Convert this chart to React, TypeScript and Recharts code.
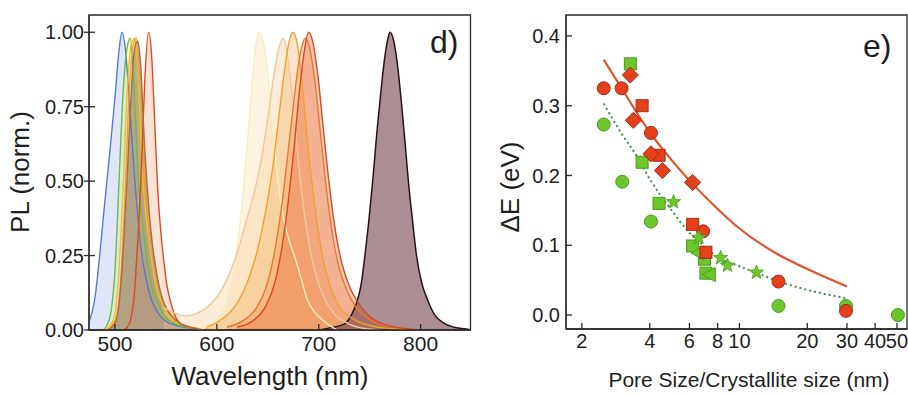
import { Area, ComposedChart, Line, ReferenceArea, Scatter, XAxis, YAxis } from "recharts";

const FONT = "'Liberation Sans', Arial, sans-serif";
const AX = "#2a2a2a";
const TXT = "#1e1e1e";

// ---- panel d: PL spectra, [wavelength (nm), PL (norm.)] ----
const blueSpec = [[475, 0.03], [480, 0.1], [485, 0.25], [490, 0.43], [495, 0.6], [500, 0.78], [504, 0.94], [507, 1.0], [510, 0.95], [515, 0.72], [520, 0.48], [525, 0.29], [530, 0.18], [535, 0.11], [540, 0.07], [545, 0.045], [550, 0.03], [560, 0.015], [570, 0.008], [580, 0.003], [590, 0]];
const greenSpec = [[488, 0], [492, 0.015], [496, 0.06], [500, 0.2], [504, 0.5], [508, 0.8], [512, 0.95], [515, 0.98], [518, 0.86], [520, 0.72], [523, 0.5], [527, 0.36], [531, 0.25], [536, 0.15], [541, 0.1], [546, 0.06], [552, 0.035], [560, 0.02], [570, 0.01], [585, 0.003], [600, 0]];
const yellowSpec = [[490, 0], [494, 0.01], [499, 0.04], [503, 0.15], [508, 0.48], [512, 0.8], [516, 0.96], [519, 0.98], [522, 0.9], [527, 0.52], [531, 0.37], [535, 0.26], [540, 0.15], [545, 0.1], [550, 0.06], [556, 0.035], [565, 0.018], [575, 0.008], [590, 0.002], [600, 0]];
const amberSpec = [[492, 0], [496, 0.01], [501, 0.04], [505, 0.14], [510, 0.47], [514, 0.8], [518, 0.96], [521, 0.98], [524, 0.9], [529, 0.53], [533, 0.38], [537, 0.27], [542, 0.16], [547, 0.1], [552, 0.065], [558, 0.035], [567, 0.018], [577, 0.008], [592, 0.002], [602, 0]];
const brownSpec = [[493, 0], [497, 0.01], [501, 0.03], [505, 0.12], [509, 0.32], [512, 0.52], [516, 0.8], [519, 0.94], [522, 0.97], [525, 0.9], [529, 0.62], [533, 0.42], [537, 0.28], [542, 0.17], [548, 0.09], [555, 0.05], [565, 0.02], [575, 0.008], [590, 0]];
const redSpec = [[508, 0], [512, 0.01], [515, 0.03], [519, 0.12], [522, 0.28], [526, 0.55], [529, 0.82], [533, 1.0], [536, 0.92], [539, 0.7], [542, 0.47], [545, 0.33], [548, 0.23], [551, 0.15], [555, 0.09], [560, 0.04], [565, 0.02], [575, 0.008], [590, 0]];
const paleSpec = [[580, 0], [587, 0.005], [595, 0.02], [605, 0.06], [615, 0.17], [622, 0.33], [628, 0.55], [634, 0.8], [638, 0.95], [642, 1.0], [646, 0.96], [651, 0.83], [656, 0.65], [660, 0.5], [666, 0.37], [671, 0.3], [676, 0.25], [683, 0.17], [689, 0.1], [696, 0.06], [705, 0.03], [712, 0.012], [718, 0]];
const tanSpec = [[548, 0.075], [560, 0.055], [570, 0.047], [580, 0.055], [590, 0.075], [600, 0.11], [610, 0.17], [620, 0.26], [630, 0.38], [638, 0.48], [645, 0.6], [652, 0.76], [658, 0.9], [662, 0.96], [665, 0.98], [668, 0.95], [673, 0.82], [678, 0.64], [683, 0.47], [689, 0.32], [696, 0.2], [705, 0.11], [715, 0.055], [730, 0.02], [745, 0.005], [760, 0]];
const orangeSpec = [[590, 0.01], [600, 0.025], [610, 0.05], [620, 0.09], [630, 0.16], [640, 0.27], [648, 0.4], [655, 0.55], [661, 0.72], [666, 0.86], [671, 0.97], [675, 1.0], [679, 0.96], [684, 0.82], [690, 0.6], [696, 0.42], [702, 0.28], [710, 0.16], [720, 0.08], [735, 0.035], [750, 0.015], [770, 0.005], [790, 0]];
const coralSpec = [[610, 0.01], [625, 0.03], [638, 0.07], [648, 0.14], [656, 0.25], [663, 0.4], [669, 0.57], [675, 0.75], [680, 0.89], [684, 0.96], [687, 0.98], [691, 0.95], [696, 0.84], [702, 0.65], [708, 0.46], [714, 0.31], [720, 0.21], [728, 0.13], [738, 0.07], [750, 0.035], [765, 0.015], [785, 0.005], [800, 0]];
const scarletSpec = [[620, 0.01], [635, 0.03], [648, 0.08], [657, 0.16], [664, 0.28], [670, 0.43], [676, 0.62], [681, 0.8], [686, 0.94], [690, 1.0], [694, 0.97], [699, 0.86], [705, 0.66], [711, 0.47], [717, 0.32], [723, 0.22], [731, 0.14], [741, 0.08], [752, 0.04], [765, 0.018], [780, 0.007], [800, 0]];
const darkSpec = [[700, 0], [712, 0.008], [725, 0.02], [732, 0.05], [738, 0.1], [742, 0.16], [745, 0.24], [749, 0.36], [753, 0.5], [757, 0.66], [761, 0.8], [765, 0.92], [768, 0.98], [770, 1.0], [773, 0.98], [777, 0.9], [781, 0.77], [785, 0.62], [788, 0.5], [792, 0.37], [796, 0.25], [801, 0.16], [807, 0.1], [814, 0.05], [822, 0.025], [832, 0.01], [845, 0.003], [850, 0]];

const wlTicks = [500, 600, 700, 800];
const plTicks = [0, 0.25, 0.5, 0.75, 1.0];

// ---- panel e: ΔE vs size ----
const redCircleX = [2.5, 3.0, 4.05, 6.9, 14.9, 29.7];
const redCircleY = [0.325, 0.325, 0.261, 0.12, 0.048, 0.006];
const redSquareX = [3.7, 4.4, 6.2, 7.1];
const redSquareY = [0.3, 0.229, 0.13, 0.09];
const redDiamondX = [3.28, 3.38, 4.05, 4.55, 6.2];
const redDiamondY = [0.344, 0.279, 0.231, 0.207, 0.19];
const greenCircleX = [2.5, 3.02, 4.05, 14.9, 29.7, 50.5];
const greenCircleY = [0.273, 0.191, 0.134, 0.013, 0.013, 0.0];
const greenSquareX = [3.28, 3.7, 4.4, 6.2, 7.0, 7.1];
const greenSquareY = [0.36, 0.219, 0.16, 0.099, 0.08, 0.06];
const greenTriX = [6.55, 7.35];
const greenTriY = [0.089, 0.058];
const greenStarX = [5.1, 6.6, 8.25, 8.85, 11.9];
const greenStarY = [0.162, 0.111, 0.082, 0.071, 0.061];
const redFitX = [2.5, 3, 4, 5, 6, 8, 10, 15, 20, 30];
const redFitY = [0.366, 0.325, 0.262, 0.222, 0.193, 0.152, 0.124, 0.086, 0.066, 0.041];
const greenFitX = [2.5, 3, 3.5, 4, 5, 6, 7, 8, 10, 12, 15, 20, 30];
const greenFitY = [0.303, 0.26, 0.228, 0.195, 0.15, 0.118, 0.098, 0.083, 0.07, 0.06, 0.048, 0.036, 0.024];

const sizeTicks = [2, 4, 6, 8, 10, 20, 30, 40, 50];
const deTicks = [0, 0.1, 0.2, 0.3, 0.4];

const toSpec = (pts: number[][]) => pts.map(([wl, pl]) => ({ wl, pl }));
const zip = (xs: number[], ys: number[]) => xs.map((x, i) => ({ x, y: ys[i] }));

const spectra = [
  { data: blueSpec, line: "#5a7cc6", fill: "#c6d2f4", op: 0.55 },
  { data: greenSpec, line: "#6cbf3c", fill: "#cfeab8", op: 0.3 },
  { data: yellowSpec, line: "#f0c418", fill: "#f8e8a0", op: 0.3 },
  { data: amberSpec, line: "#e8a040", fill: "#f6c890", op: 0.3 },
  { data: redSpec, line: "#e04820", fill: "#f6bea6", op: 0.45 },
  { data: brownSpec, line: "#b8683c", fill: "#7a6a50", op: 0.5 },
  { data: paleSpec, line: "#f6eebc", fill: "#fbe6b4", op: 0.4 },
  { data: tanSpec, line: "#ecc89c", fill: "#f5c890", op: 0.35 },
  { data: orangeSpec, line: "#f0a030", fill: "#f5a850", op: 0.32 },
  { data: coralSpec, line: "#e87830", fill: "#ef8a48", op: 0.32 },
  { data: scarletSpec, line: "#d84a20", fill: "#ec6a3a", op: 0.35 },
];

const YTickD = (p: any) => (
  <g>
    <line x1={p.x - 5} x2={p.x + 6} y1={p.y} y2={p.y} stroke={AX} strokeWidth={1.3} />
    <text x={p.x - 5} y={p.y} dy="0.36em" textAnchor="end" fontSize={20} fontFamily={FONT} fill={TXT}>
      {Number(p.payload.value).toFixed(2)}
    </text>
  </g>
);
const XTickD = (p: any) => (
  <g>
    <line x1={p.x} x2={p.x} y1={p.y} y2={p.y - 6} stroke={AX} strokeWidth={1.3} />
    <text x={p.x} y={p.y + 21} textAnchor="middle" fontSize={21} fontFamily={FONT} fill={TXT}>
      {p.payload.value}
    </text>
  </g>
);
const YTickE = (p: any) => (
  <g>
    <line x1={p.x} x2={p.x + 6} y1={p.y} y2={p.y} stroke={AX} strokeWidth={1.3} />
    <text x={p.x - 6} y={p.y} dy="0.36em" textAnchor="end" fontSize={20} fontFamily={FONT} fill={TXT}>
      {Number(p.payload.value).toFixed(1)}
    </text>
  </g>
);
const XTickE = (p: any) => (
  <g>
    <line x1={p.x} x2={p.x} y1={p.y} y2={p.y - 6} stroke={AX} strokeWidth={1.3} />
    <text x={p.x} y={p.y + 19} textAnchor="middle" fontSize={20} fontFamily={FONT} fill={TXT}>
      {p.payload.value}
    </text>
  </g>
);

const RED = { fill: "#e4401c", stroke: "#a8281a" };
const GRN = { fill: "#6cc62c", stroke: "#4a9a1e" };

const circle = (c: typeof RED) => (p: any) => <circle cx={p.cx} cy={p.cy} r={6.5} fill={c.fill} stroke={c.stroke} strokeWidth={1} />;
const square = (c: typeof RED) => (p: any) => <rect x={p.cx - 6} y={p.cy - 6} width={12} height={12} fill={c.fill} stroke={c.stroke} strokeWidth={1} />;
const diamond = (c: typeof RED) => (p: any) => (
  <polygon points={`${p.cx},${p.cy - 8} ${p.cx + 8},${p.cy} ${p.cx},${p.cy + 8} ${p.cx - 8},${p.cy}`} fill={c.fill} stroke={c.stroke} strokeWidth={1} />
);
const leftTri = (c: typeof RED) => (p: any) => (
  <polygon points={`${p.cx - 7},${p.cy} ${p.cx + 6},${p.cy - 7} ${p.cx + 6},${p.cy + 7}`} fill={c.fill} stroke={c.stroke} strokeWidth={1} />
);
const star = (c: typeof RED) => (p: any) => {
  const pts: string[] = [];
  for (let i = 0; i < 10; i++) {
    const r = i % 2 === 0 ? 7.5 : 3.2;
    const a = -Math.PI / 2 + (i * Math.PI) / 5;
    pts.push(`${p.cx + r * Math.cos(a)},${p.cy + r * Math.sin(a)}`);
  }
  return <polygon points={pts.join(" ")} fill={c.fill} stroke={c.stroke} strokeWidth={0.8} />;
};

const PanelD = () => (
  <ComposedChart width={480} height={394} margin={{ top: 15, right: 9.5, bottom: 0, left: 0 }}>
    <XAxis
      dataKey="wl"
      type="number"
      domain={[474.5, 849]}
      allowDataOverflow
      ticks={wlTicks}
      interval={0}
      height={64}
      tickSize={0}
      tickMargin={0}
      tickLine={false}
      tick={<XTickD />}
      axisLine={{ stroke: AX, strokeWidth: 1.3 }}
    />
    <YAxis
      type="number"
      domain={[0, 1.058]}
      allowDataOverflow
      ticks={plTicks}
      interval={0}
      width={89}
      tickSize={0}
      tickMargin={0}
      tickLine={false}
      tick={<YTickD />}
      axisLine={{ stroke: AX, strokeWidth: 1.3 }}
    />
    {spectra.map((s, i) => (
      <Area
        key={"f" + i}
        data={toSpec(s.data)}
        dataKey="pl"
        type="monotone"
        stroke="none"
        fill={s.fill}
        fillOpacity={s.op}
        isAnimationActive={false}
        activeDot={false}
      />
    ))}
    {spectra.map((s, i) => (
      <Line
        key={"l" + i}
        data={toSpec(s.data)}
        dataKey="pl"
        type="monotone"
        stroke={s.line}
        strokeWidth={1.4}
        dot={false}
        activeDot={false}
        isAnimationActive={false}
      />
    ))}
    <Area
      data={toSpec(darkSpec)}
      dataKey="pl"
      type="monotone"
      stroke="#2a1212"
      strokeWidth={1.5}
      fill="#6e3c46"
      fillOpacity={0.58}
      isAnimationActive={false}
      activeDot={false}
    />
    <ReferenceArea x1={474.5} x2={849} y1={0} y2={1.058} fill="none" stroke={AX} strokeWidth={1.3} ifOverflow="visible" />
  </ComposedChart>
);

const PanelE = () => (
  <ComposedChart width={428} height={394} margin={{ top: 15, right: 1, bottom: 0, left: 0 }}>
    <XAxis
      dataKey="x"
      type="number"
      scale="log"
      domain={[1.7, 55.4]}
      allowDataOverflow
      ticks={sizeTicks}
      interval={0}
      height={65}
      tickSize={0}
      tickMargin={0}
      tickLine={false}
      tick={<XTickE />}
      axisLine={{ stroke: AX, strokeWidth: 1.3 }}
    />
    <YAxis
      dataKey="y"
      type="number"
      domain={[-0.02, 0.43]}
      allowDataOverflow
      ticks={deTicks}
      interval={0}
      width={86}
      tickSize={0}
      tickMargin={0}
      tickLine={false}
      tick={<YTickE />}
      axisLine={{ stroke: AX, strokeWidth: 1.3 }}
    />
    <Line data={zip(redFitX, redFitY)} dataKey="y" type="monotone" stroke="#e0502a" strokeWidth={2.2} dot={false} activeDot={false} isAnimationActive={false} />
    <Line data={zip(greenFitX, greenFitY)} dataKey="y" type="monotone" stroke="#3f8f4a" strokeWidth={2} strokeDasharray="2 3" dot={false} activeDot={false} isAnimationActive={false} />
    <Scatter data={zip(greenCircleX, greenCircleY)} dataKey="y" shape={circle(GRN)} isAnimationActive={false} />
    <Scatter data={zip(redCircleX, redCircleY)} dataKey="y" shape={circle(RED)} isAnimationActive={false} />
    <Scatter data={zip(greenSquareX, greenSquareY)} dataKey="y" shape={square(GRN)} isAnimationActive={false} />
    <Scatter data={zip(greenTriX, greenTriY)} dataKey="y" shape={leftTri(GRN)} isAnimationActive={false} />
    <Scatter data={zip(redSquareX, redSquareY)} dataKey="y" shape={square(RED)} isAnimationActive={false} />
    <Scatter data={zip(redDiamondX, redDiamondY)} dataKey="y" shape={diamond(RED)} isAnimationActive={false} />
    <Scatter data={zip(greenStarX, greenStarY)} dataKey="y" shape={star(GRN)} isAnimationActive={false} />
    <ReferenceArea x1={1.7} x2={55.4} y1={-0.02} y2={0.43} fill="none" stroke={AX} strokeWidth={1.3} ifOverflow="visible" />
  </ComposedChart>
);

export default function App() {
  return (
    <div style={{ position: "absolute", left: 0, top: 0, width: 908, height: 394, background: "#fff" }}>
      <div style={{ position: "absolute", left: 0, top: 0 }}>
        <PanelD />
      </div>
      <div style={{ position: "absolute", left: 480, top: 0 }}>
        <PanelE />
      </div>
      <svg width={908} height={394} style={{ position: "absolute", left: 0, top: 0, pointerEvents: "none" }} fontFamily={FONT} fill={TXT}>
        <text x={29} y={172} fontSize={26} textAnchor="middle" transform="rotate(-90 29 172)">PL (norm.)</text>
        <text x={270} y={385} fontSize={26} textAnchor="middle">Wavelength (nm)</text>
        <text x={430} y={53} fontSize={32}>d)</text>
        <text x={519} y={187} fontSize={26} textAnchor="middle" transform="rotate(-90 519 187)">ΔE (eV)</text>
        <text x={749} y={387} fontSize={21} textAnchor="middle">Pore Size/Crystallite size (nm)</text>
        <text x={863} y={57} fontSize={32}>e)</text>
      </svg>
    </div>
  );
}
